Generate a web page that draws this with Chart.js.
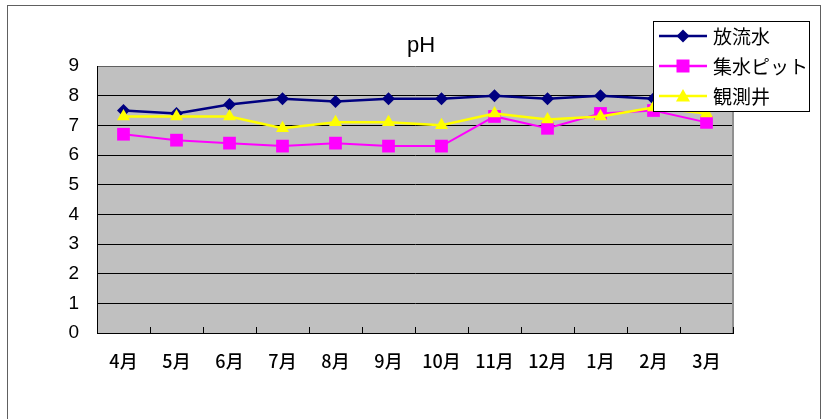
<!DOCTYPE html>
<html>
<head>
<meta charset="utf-8">
<script src="https://cdn.jsdelivr.net/npm/chart.js@4/dist/chart.umd.min.js"></script>
<style>
  body { margin: 0; background: #fff; }
  #wrap { width: 822px; height: 419px; }
</style>
</head>
<body>
<div id="wrap"><canvas id="phChart" width="822" height="419"></canvas></div>
<script>
// Data
const months = ['4月', '5月', '6月', '7月', '8月', '9月', '10月', '11月', '12月', '1月', '2月', '3月'];
const seriesNames = ['放流水', '集水ピット', '観測井'];
const discharge = [7.5, 7.4, 7.7, 7.9, 7.8, 7.9, 7.9, 8.0, 7.9, 8.0, 7.9, 7.9];
const pit = [6.7, 6.5, 6.4, 6.3, 6.4, 6.3, 6.3, 7.3, 6.9, 7.4, 7.5, 7.1];
const well = [7.3, 7.3, 7.3, 6.9, 7.1, 7.1, 7.0, 7.4, 7.2, 7.3, 7.6, 7.4];
const yMin = 0;
const yMax = 9;
const yStep = 1;

const colors = ['#000080', '#FF00FF', '#FFFF00'];
const styles = ['rectRot', 'rect', 'triangle'];
const jpFont = '"Noto Sans CJK JP", sans-serif';

function drawMarker(ctx, style, x, y, color) {
  ctx.save();
  ctx.fillStyle = color;
  ctx.beginPath();
  if (style === 'rectRot') {
    ctx.moveTo(x, y - 6.5); ctx.lineTo(x + 6.5, y); ctx.lineTo(x, y + 6.5); ctx.lineTo(x - 6.5, y);
  } else if (style === 'rect') {
    ctx.rect(x - 6.5, y - 6.5, 13, 13);
  } else {
    ctx.moveTo(x, y - 7); ctx.lineTo(x + 7, y + 5.5); ctx.lineTo(x - 7, y + 5.5);
  }
  ctx.closePath();
  ctx.fill();
  ctx.restore();
}

// Background, frame, title, inner ticks and legend
const decor = {
  id: 'decor',
  beforeDraw(chart) {
    const { ctx, chartArea: a } = chart;
    ctx.save();
    ctx.strokeStyle = '#606060';
    ctx.lineWidth = 1;
    ctx.strokeRect(7.5, 5.5, 813, 430);
    ctx.fillStyle = '#C0C0C0';
    ctx.fillRect(a.left, a.top, a.right - a.left, a.bottom - a.top);
    ctx.fillStyle = '#000';
    ctx.font = '22px "Liberation Sans", Arial, sans-serif';
    ctx.textAlign = 'center';
    ctx.textBaseline = 'middle';
    ctx.fillText('pH', 421, 46);
    ctx.restore();
  },
  beforeDatasetsDraw(chart) {
    const { ctx, chartArea: a } = chart;
    ctx.save();
    ctx.strokeStyle = '#909090';
    ctx.lineWidth = 2;
    ctx.beginPath();
    ctx.moveTo(a.right, a.top);
    ctx.lineTo(a.right, a.bottom);
    ctx.stroke();
    ctx.strokeStyle = '#000';
    ctx.lineWidth = 1;
    const step = (a.right - a.left) / months.length;
    ctx.beginPath();
    for (let i = 0; i <= months.length; i++) {
      const x = Math.round(a.left + i * step) + 0.5;
      ctx.moveTo(x, a.bottom);
      ctx.lineTo(x, a.bottom - 6);
    }
    ctx.stroke();
    ctx.restore();
  },
  afterDraw(chart) {
    const ctx = chart.ctx;
    ctx.save();
    ctx.fillStyle = '#fff';
    ctx.fillRect(653.5, 21.5, 156, 90);
    ctx.strokeStyle = '#000';
    ctx.lineWidth = 1;
    ctx.strokeRect(653.5, 21.5, 156, 90);
    ctx.font = '19px ' + jpFont;
    ctx.textBaseline = 'middle';
    ctx.textAlign = 'left';
    seriesNames.forEach(function(name, i) {
      const y = 36 + i * 30;
      ctx.strokeStyle = colors[i];
      ctx.lineWidth = 2.5;
      ctx.beginPath();
      ctx.moveTo(659, y);
      ctx.lineTo(707, y);
      ctx.stroke();
      drawMarker(ctx, styles[i], 683, y, colors[i]);
      ctx.fillStyle = '#000';
      ctx.fillText(name, 713, y + 1);
    });
    ctx.restore();
  }
};

const ctx = document.getElementById('phChart').getContext('2d');

new Chart(ctx, {
  type: 'line',
  data: {
    labels: months,
    datasets: [{
      label: seriesNames[0],
      data: discharge,
      borderColor: colors[0],
      backgroundColor: colors[0],
      borderWidth: 2.5,
      pointStyle: 'rectRot',
      pointRadius: 6.5,
      pointBorderWidth: 0,
      order: 2
    }, {
      label: seriesNames[1],
      data: pit,
      borderColor: colors[1],
      backgroundColor: colors[1],
      borderWidth: 2,
      pointStyle: 'rect',
      pointRadius: 9,
      pointBorderWidth: 0,
      order: 1
    }, {
      label: seriesNames[2],
      data: well,
      borderColor: colors[2],
      backgroundColor: colors[2],
      borderWidth: 2.5,
      pointStyle: 'triangle',
      pointRadius: 7.5,
      pointBorderWidth: 0,
      order: 0
    }]
  },
  options: {
    responsive: false,
    animation: false,
    layout: {
      padding: { left: 0, top: 66, right: 89, bottom: 0 }
    },
    plugins: {
      legend: { display: false },
      title: { display: false },
      tooltip: { enabled: false }
    },
    scales: {
      x: {
        offset: true,
        afterFit(scale) { scale.height = 86; },
        grid: { display: false, drawTicks: false },
        border: { display: true, color: '#000', width: 1 },
        ticks: {
          color: '#000',
          padding: 17,
          maxRotation: 0,
          autoSkip: false,
          font: { family: jpFont, size: 18, weight: '500' }
        }
      },
      y: {
        min: yMin,
        max: yMax,
        afterFit(scale) { scale.width = 97; },
        grid: {
          color: function(c) { return c.tick && c.tick.value === yMax ? '#606060' : '#000'; },
          lineWidth: 1,
          drawTicks: false
        },
        border: { display: true, color: '#000', width: 1 },
        ticks: {
          stepSize: yStep,
          color: '#000',
          padding: 18,
          font: { family: '"Liberation Sans", Arial, sans-serif', size: 19 }
        }
      }
    }
  },
  plugins: [decor]
});
</script>
</body>
</html>
